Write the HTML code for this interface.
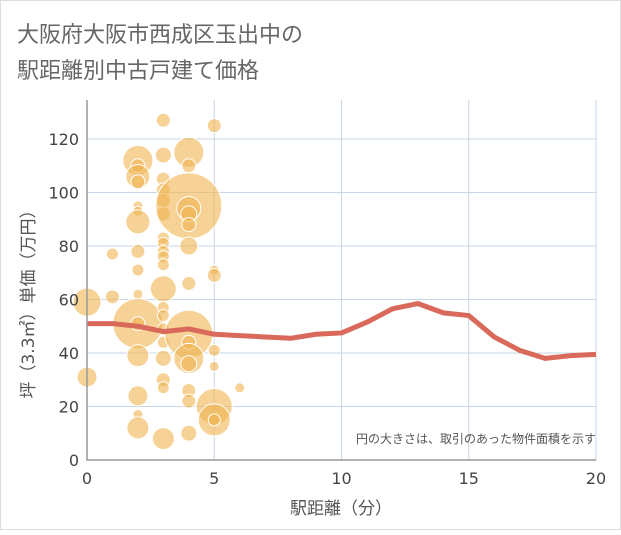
<!DOCTYPE html>
<html><head><meta charset="utf-8"><style>
body{margin:0;background:#fff;}
svg text{font-family:"DejaVu Sans","Noto Sans CJK JP",sans-serif;}
</style></head><body>
<svg width="621" height="530" xmlns="http://www.w3.org/2000/svg">
<rect x="0.5" y="0.5" width="620" height="529" fill="#fff" stroke="#ddd"/>
<text x="17" y="42" font-size="22" fill="#666" font-family="Noto Sans CJK JP">大阪府大阪市西成区玉出中の</text>
<text x="17" y="78" font-size="22" fill="#666" font-family="Noto Sans CJK JP">駅距離別中古戸建て価格</text>
<g id="grid"></g>
<g id="bubbles"></g>
<g id="line"></g>
<g id="axes"></g>
<text x="596" y="443" font-size="12" fill="#555" text-anchor="end" font-family="Noto Sans CJK JP">円の大きさは、取引のあった物件面積を示す</text>
<text x="341" y="514" font-size="17" fill="#555" text-anchor="middle" font-family="Noto Sans CJK JP">駅距離（分）</text>
<text transform="translate(34,300) rotate(-90)" font-size="17" fill="#555" text-anchor="middle" font-family="Noto Sans CJK JP">坪（3.3㎡）単価（万円）</text>
</svg>
<script>
const xTicks=[0,5,10,15,20];
const yTicks=[0,20,40,60,80,100,120];
const bubbleX=[0,0,1,1,2,2,2,2,2,2,2,2,2,2,2,2,2,2,2,2,3,3,3,3,3,3,3,3,3,3,3,3,3,3,3,3,3,3,3,3,4,4,4,4,4,4,4,4,4,4,4,4,4,4,4,5,5,5,5,5,5,5,5,6];
const bubbleY=[59,31,77,61,112,110,106,104,95,93,89,78,71,62,51,51,39,24,17,12,127,114,105,101,97,92,83,81,78,76,73,64,57,54,49,44,38,30,27,8,115,110,95,94,92,88,80,66,47,44,38,36,26,22,10,125,71,69,41,35,20,15,15,27];
const bubbleR=[14,10,6,7,15,7,12,7,5,5,12,7,6,5,25,7,11,10,5,11,7,8,7,7,7,7,6,6,6,6,6,13,6,6,6,6,8,7,6,11,15,7,33,12,8,7,9,7,24,7,15,8,7,7,8,7,5,7,6,5,18,16,6,5];
const lineX=[0,1,2,3,4,5,6,7,8,9,10,11,12,13,14,15,16,17,18,19,20];
const lineY=[51,51,50,48,49,47,46.5,46,45.5,47,47.5,51.5,56.5,58.5,55,54,46,41,38,39,39.5];
const L=87,R=596,T=100,B=460;
const sx=v=>L+v*(R-L)/20, sy=v=>B-v*(B-139)/120;
const NS="http://www.w3.org/2000/svg";
function mk(tag,attrs,parent){const e=document.createElementNS(NS,tag);for(const k in attrs)e.setAttribute(k,attrs[k]);parent.appendChild(e);return e;}
const grid=document.getElementById('grid'),axes=document.getElementById('axes');
yTicks.forEach(v=>{const g=mk('line',{x1:L,x2:R,y1:sy(v),y2:sy(v),stroke:'#c9d6e3','stroke-width':1},grid);


const t=mk('text',{x:L-8,y:sy(v)+6,'font-size':16,fill:'#444','text-anchor':'end'},axes);t.textContent=v;

});
xTicks.forEach(v=>{const g=mk('line',{x1:sx(v),x2:sx(v),y1:T,y2:B,stroke:'#c9d6e3','stroke-width':1},grid);


const t=mk('text',{x:sx(v),y:B+24,'font-size':16,fill:'#444','text-anchor':'middle'},axes);t.textContent=v;

});
const ax=mk('path',{d:`M${L},${T} V${B} H${R}`,fill:'none',stroke:'#999','stroke-width':1.5},axes);


const bg=document.getElementById('bubbles');
bubbleX.forEach((x,i)=>{const c=mk('circle',{cx:sx(x),cy:sy(bubbleY[i]),r:bubbleR[i],fill:'rgba(240,180,80,0.6)',stroke:'#fff','stroke-width':1},bg);

});
const p=mk('polyline',{points:lineX.map((x,i)=>sx(x)+','+sy(lineY[i])).join(' '),fill:'none',stroke:'#d9695a','stroke-width':5,'stroke-linejoin':'round'},document.getElementById('line'));


</script>
</body></html>
